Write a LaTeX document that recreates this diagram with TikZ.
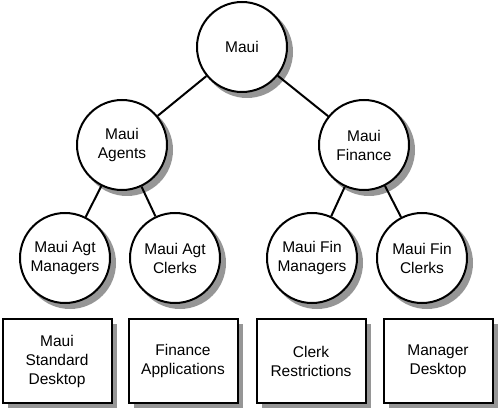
\documentclass[tikz,border=0pt]{standalone}
\usepackage{fontspec}
\setmainfont{Liberation Sans}
\definecolor{shadowgray}{RGB}{150,150,150}
\begin{document}
\begin{tikzpicture}[x=1pt,y=1pt,
  every node/.style={font=\fontsize{15.5}{19}\selectfont, align=center},
  shadowcol/.style={fill=shadowgray},
  grp/.style={circle, draw, line width=2pt, fill=white, minimum size=90pt, inner sep=0pt},
  pol/.style={rectangle, draw, line width=2pt, fill=white, minimum width=109pt, minimum height=84pt, inner sep=0pt},
  link/.style={line width=2pt}]
\useasboundingbox (0,0) rectangle (500,410);
\path[shadowcol] (247,358) circle (46);
\path[shadowcol] (127,260) circle (46);
\path[shadowcol] (369,260) circle (46);
\path[shadowcol] (70,147) circle (46);
\path[shadowcol] (180,147) circle (46);
\path[shadowcol] (317,147) circle (46);
\path[shadowcol] (427,147) circle (46);
\path[shadowcol] (7.5,2) rectangle (116.5,86);
\path[shadowcol] (133.5,2) rectangle (242.5,86);
\path[shadowcol] (261.5,2) rectangle (370.5,86);
\path[shadowcol] (388.5,2) rectangle (497.5,86);
\node[grp] (maui) at (242,363) {Maui};
\node[grp] (agents) at (122,265) {Maui\\Agents};
\node[grp] (fin) at (364,265) {Maui\\Finance};
\node[grp] (agtm) at (65,152) {Maui Agt\\Managers};
\node[grp] (agtc) at (175,152) {Maui Agt\\Clerks};
\node[grp] (finm) at (312,152) {Maui Fin\\Managers};
\node[grp] (finc) at (422,152) {Maui Fin\\Clerks};
\node[pol] (p1) at (57,49) {Maui\\Standard\\Desktop};
\node[pol] (p2) at (183,49) {Finance\\Applications};
\node[pol] (p3) at (311,49) {Clerk\\Restrictions};
\node[pol] (p4) at (438,49) {Manager\\Desktop};
\draw[link] (maui) -- (agents);
\draw[link] (maui) -- (fin);
\draw[link] (agents) -- (agtm);
\draw[link] (agents) -- (agtc);
\draw[link] (fin) -- (finm);
\draw[link] (fin) -- (finc);
\end{tikzpicture}
\end{document}
